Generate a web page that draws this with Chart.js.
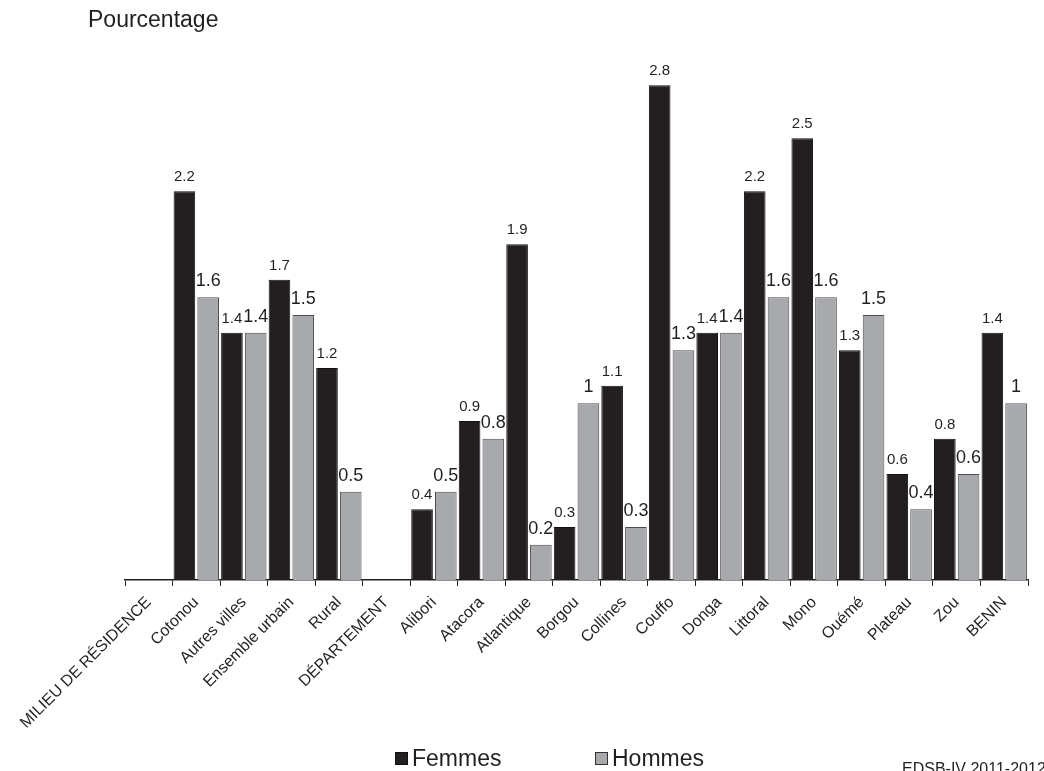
<!DOCTYPE html>
<html lang="fr">
<head>
    <meta charset="UTF-8">
    <title>Pourcentage - Femmes / Hommes</title>
    <script src="https://cdn.jsdelivr.net/npm/chart.js@4.4.1/dist/chart.umd.min.js"></script>
    <style>
        html, body { margin: 0; padding: 0; background: #fff; }
        #wrap { width: 1044px; height: 771px; position: relative; }
    </style>
</head>
<body>
    <div id="wrap"><canvas id="chart"></canvas></div>

    <script>
        // Données
        const categories = ['MILIEU DE RÉSIDENCE', 'Cotonou', 'Autres villes', 'Ensemble urbain', 'Rural',
            'DÉPARTEMENT', 'Alibori', 'Atacora', 'Atlantique', 'Borgou', 'Collines', 'Couffo', 'Donga',
            'Littoral', 'Mono', 'Ouémé', 'Plateau', 'Zou', 'BENIN'];
        const femmes = [null, 2.2, 1.4, 1.7, 1.2, null, 0.4, 0.9, 1.9, 0.3, 1.1, 2.8, 1.4, 2.2, 2.5, 1.3, 0.6, 0.8, 1.4];
        const hommes = [null, 1.6, 1.4, 1.5, 0.5, null, 0.5, 0.8, 0.2, 1, 0.3, 1.3, 1.4, 1.6, 1.6, 1.5, 0.4, 0.6, 1];
        const seriesNames = ['Femmes', 'Hommes'];

        const FONT = "'Liberation Sans', Arial, sans-serif";
        const INK = '#231f20';
        const GREY = '#a7a9ac';

        // étiquettes de valeur au-dessus des barres
        const valueLabels = {
            id: 'valueLabels',
            afterDatasetsDraw(chart) {
                const ctx = chart.ctx;
                ctx.save();
                ctx.fillStyle = INK;
                ctx.textAlign = 'center';
                ctx.textBaseline = 'alphabetic';
                chart.data.datasets.forEach((ds, i) => {
                    const size = i === 0 ? 15 : 18;
                    ctx.font = size + 'px ' + FONT;
                    chart.getDatasetMeta(i).data.forEach((bar, j) => {
                        const v = ds.data[j];
                        if (v === null) return;
                        ctx.fillText(String(v), bar.x, bar.y - (i === 0 ? 10 : 11));
                    });
                });
                ctx.restore();
            }
        };

        // titre, légende et source
        const extras = {
            id: 'extras',
            afterDraw(chart) {
                const ctx = chart.ctx;
                ctx.save();
                ctx.fillStyle = INK;
                ctx.textBaseline = 'alphabetic';
                ctx.textAlign = 'left';
                ctx.font = '23px ' + FONT;
                ctx.fillText('Pourcentage', 88, 27);

                // légende
                const items = [
                    { x: 395, fill: INK, stroke: '#111' },
                    { x: 595, fill: GREY, stroke: '#333' }
                ];
                ctx.font = '23px ' + FONT;
                items.forEach((it, i) => {
                    ctx.fillStyle = it.fill;
                    ctx.fillRect(it.x, 752, 13, 13);
                    ctx.strokeStyle = it.stroke;
                    ctx.lineWidth = 1;
                    ctx.strokeRect(it.x + 0.5, 752.5, 12, 12);
                    ctx.fillStyle = INK;
                    ctx.fillText(seriesNames[i], it.x + 17, 766);
                });

                ctx.font = '16px ' + FONT;
                ctx.fillText('EDSB-IV 2011-2012', 902, 774);
                ctx.restore();
            }
        };

        new Chart(document.getElementById('chart'), {
            type: 'bar',
            data: {
                labels: categories,
                datasets: [
                    {
                        label: seriesNames[0],
                        data: femmes,
                        backgroundColor: INK,
                        borderColor: '#111',
                        borderWidth: 1,
                        barPercentage: 0.91,
                        categoryPercentage: 1
                    },
                    {
                        label: seriesNames[1],
                        data: hommes,
                        backgroundColor: GREY,
                        borderColor: '#4d4d4d',
                        borderWidth: 1,
                        barPercentage: 0.91,
                        categoryPercentage: 1
                    }
                ]
            },
            options: {
                responsive: true,
                maintainAspectRatio: false,
                animation: false,
                layout: { padding: { left: 125, right: 16, top: 50, bottom: 0 } },
                scales: {
                    x: {
                        afterFit(scale) { scale.height = 191; },
                        grid: {
                            drawOnChartArea: false,
                            drawTicks: true,
                            tickLength: 6,
                            color: INK,
                            lineWidth: 1
                        },
                        border: { display: true, color: INK, width: 1.5 },
                        ticks: {
                            autoSkip: false,
                            maxRotation: 45,
                            minRotation: 45,
                            padding: 7,
                            color: INK,
                            font: { family: FONT, size: 16 }
                        }
                    },
                    y: {
                        display: false,
                        min: 0,
                        max: 3
                    }
                },
                plugins: {
                    legend: { display: false },
                    title: { display: false },
                    tooltip: { enabled: false }
                }
            },
            plugins: [valueLabels, extras]
        });
    </script>
</body>
</html>
